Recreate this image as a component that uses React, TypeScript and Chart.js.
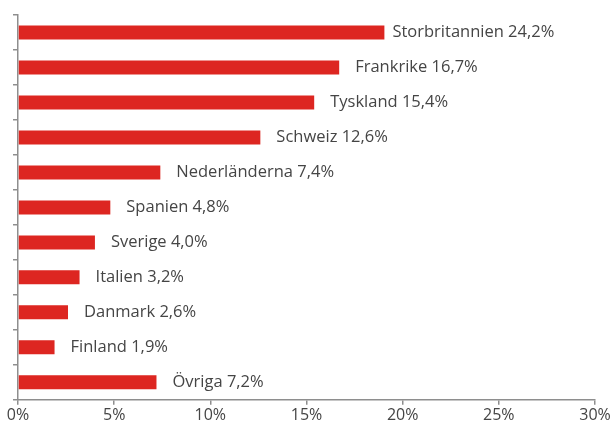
import React, { useEffect, useRef } from "react";
import { Chart, registerables } from "chart.js";

Chart.register(...registerables);

const categories = [
  "Storbritannien",
  "Frankrike",
  "Tyskland",
  "Schweiz",
  "Nederländerna",
  "Spanien",
  "Sverige",
  "Italien",
  "Danmark",
  "Finland",
  "Övriga",
];
// Bar lengths as drawn in the reference (Storbritannien bar is drawn shorter than its label)
const barValues = [19.05, 16.7, 15.4, 12.6, 7.4, 4.8, 4.0, 3.2, 2.6, 1.9, 7.2];
const valueLabels = ["24,2%", "16,7%", "15,4%", "12,6%", "7,4%", "4,8%", "4,0%", "3,2%", "2,6%", "1,9%", "7,2%"];
const xTicks = [0, 5, 10, 15, 20, 25, 30];

const FONT = "'Open Sans', sans-serif";
const TEXT = "#454545";
const AXIS = "#8e8e8e";

const barLabelPlugin = {
  id: "barLabels",
  afterDatasetsDraw(chart: any) {
    const ctx = chart.ctx;
    const meta = chart.getDatasetMeta(0);
    ctx.save();
    ctx.font = `16.5px ${FONT}`;
    ctx.fillStyle = TEXT;
    ctx.textAlign = "left";
    ctx.textBaseline = "middle";
    meta.data.forEach((bar: any, i: number) => {
      const gap = i === 0 ? 8 : 16;
      ctx.fillText(`${categories[i]} ${valueLabels[i]}`, bar.x + gap, bar.y);
    });
    ctx.restore();
  },
};

export default function App() {
  const ref = useRef<HTMLCanvasElement>(null);
  useEffect(() => {
    const chart = new Chart(ref.current!, {
      type: "bar",
      data: {
        labels: categories,
        datasets: [
          {
            data: barValues,
            backgroundColor: "#dd2621",
            barPercentage: 0.8,
            categoryPercentage: 0.5,
          },
        ],
      },
      options: {
        indexAxis: "y",
        animation: false,
        responsive: false,
        maintainAspectRatio: false,
        layout: { padding: { left: 13, right: 18, top: 15, bottom: 2 } },
        plugins: { legend: { display: false }, tooltip: { enabled: false } },
        scales: {
          x: {
            min: 0,
            max: 30,
            afterBuildTicks: (axis: any) => {
              axis.ticks = xTicks.map((v) => ({ value: v }));
            },
            grid: { drawOnChartArea: false, drawTicks: true, tickLength: 5, color: AXIS, lineWidth: 1.5 },
            border: { color: AXIS, width: 1.5 },
            ticks: {
              callback: (v: any) => `${v}%`,
              color: TEXT,
              font: { family: FONT, size: 16 },
              padding: 1,
              maxRotation: 0,
            },
          },
          y: {
            grid: { drawOnChartArea: false, drawTicks: true, tickLength: 5, color: AXIS, lineWidth: 1.5, offset: true },
            border: { color: AXIS, width: 1.5 },
            ticks: { display: false },
          },
        },
      },
      plugins: [barLabelPlugin],
    });
    return () => chart.destroy();
  }, []);
  return (
    <div style={{ position: "fixed", left: 0, top: 0, width: 613, height: 428 }}>
      <canvas ref={ref} width={613} height={428} />
    </div>
  );
}
